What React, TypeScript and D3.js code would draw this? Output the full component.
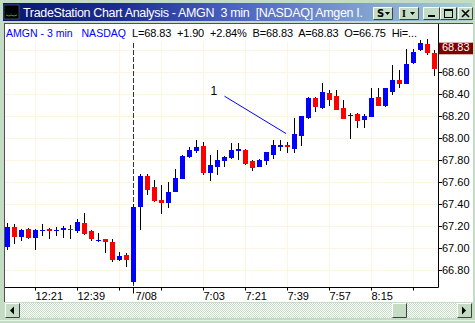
import React from "react";
import * as d3 from "d3";

const times = [
  "12:09","12:12","12:15","12:18","12:21","12:24","12:27","12:30","12:33","12:36",
  "12:39","12:42","12:45","12:48","12:51","12:54","12:57","13:00",
  "6:33","6:36","6:39","6:42","6:45","6:48","6:51","6:54","6:57","7:00",
  "7:03","7:06","7:09","7:12","7:15","7:18","7:21","7:24","7:27","7:30",
  "7:33","7:36","7:39","7:42","7:45","7:48","7:51","7:54","7:57","8:00",
  "8:03","8:06","8:09","8:12","8:15","8:18","8:21","8:24","8:27","8:30",
  "8:33","8:36","8:39","8:42",
];
const opens = [
  67.01,67.19,67.10,67.17,67.09,67.15,67.17,67.15,67.16,67.17,
  67.15,67.23,67.15,67.06,67.08,67.05,66.89,66.94,
  66.69,67.37,67.65,67.55,67.44,67.41,67.51,67.63,67.83,67.88,
  67.93,67.68,67.74,67.79,67.82,67.88,67.89,67.79,67.74,67.79,
  67.85,67.92,67.94,67.90,68.02,68.18,68.36,68.27,68.41,68.38,
  68.27,68.20,68.22,68.16,68.19,68.37,68.29,68.42,68.53,68.49,
  68.68,68.80,68.85,68.77,
];
const highs = [
  67.23,67.22,67.17,67.18,67.17,67.22,67.18,67.19,67.20,67.21,
  67.26,67.32,67.16,67.14,67.08,67.08,66.96,66.95,
  67.40,67.67,67.67,67.62,67.57,67.60,67.72,67.85,67.92,67.98,
  67.96,67.85,67.89,67.84,67.95,67.95,67.90,67.80,67.81,67.87,
  67.98,67.98,67.96,68.18,68.20,68.37,68.37,68.50,68.44,68.44,
  68.35,68.23,68.23,68.22,68.45,68.45,68.45,68.66,68.62,68.81,
  68.81,68.89,68.90,68.80,
];
const lows = [
  66.98,67.04,67.06,67.08,66.98,67.11,67.08,67.11,67.09,67.08,
  67.14,67.12,67.06,67.05,66.95,66.87,66.88,66.83,
  66.67,67.16,67.48,67.42,67.31,67.36,67.51,67.63,67.82,67.86,
  67.66,67.61,67.66,67.74,67.81,67.80,67.75,67.70,67.74,67.75,
  67.81,67.88,67.86,67.86,67.93,68.17,68.24,68.26,68.29,68.25,
  68.17,67.99,68.09,68.09,68.19,68.29,68.28,68.39,68.45,68.49,
  68.67,68.79,68.75,68.56,
];
const closes = [
  67.19,67.10,67.16,67.09,67.16,67.16,67.15,67.16,67.18,67.16,
  67.24,67.13,67.08,67.07,67.05,66.89,66.93,66.89,
  67.37,67.65,67.53,67.43,67.41,67.51,67.64,67.84,67.89,67.92,
  67.68,67.75,67.80,67.83,67.89,67.90,67.76,67.73,67.80,67.87,
  67.94,67.94,67.92,68.04,68.20,68.36,68.28,68.42,68.35,68.25,
  68.17,68.21,68.15,68.20,68.36,68.29,68.45,68.53,68.49,68.67,
  68.78,68.86,68.77,68.63,
];

const priceTicks = [66.8, 67.0, 67.2, 67.4, 67.6, 67.8, 68.0, 68.2, 68.4, 68.6];
const gridPrices = [66.8, 67.0, 67.2, 67.4, 67.6, 67.8, 68.0, 68.2, 68.4, 68.6, 68.8];
const timeTickIndex = [4, 10, 16, 18, 22, 28, 34, 40, 46, 52, 58];
const timeTickLabels = ["12:21", "12:39", "", "7/08", "", "7:03", "7:21", "7:39", "7:57", "8:15", ""];
const dayBreakIndex = 18;
const lastPrice = 68.83;
const trendIdx = [31, 39.8];
const trendPrice = [68.38, 68.04];
const trendLabel = "1";
const headerSymbol = "AMGN - 3 min   NASDAQ";
const headerQuote = "L=68.83  +1.90  +2.84%  B=68.83  A=68.83  O=66.75  Hi=...";
const titleText = "TradeStation Chart Analysis - AMGN  3 min  [NASDAQ] Amgen I.";

const W = 475;
const H = 323;
const FONT = "'Liberation Sans', Arial, sans-serif";
const FRAME = "#c4dcc4";
const GRID = "#fbf5e2";

function Btn({ x, y, w, h, children }: any) {
  return (
    <g>
      <rect x={x} y={y} width={w} height={h} fill={FRAME} />
      <path d={`M${x + 0.5},${y + h - 0.5} V${y + 0.5} H${x + w - 0.5}`} stroke="#ffffff" fill="none" />
      <path d={`M${x + 0.5},${y + h - 0.5} H${x + w - 0.5} V${y + 0.5}`} stroke="#404040" fill="none" />
      {children}
    </g>
  );
}

export default function App() {
  const n = times.length;
  const x = d3.scaleLinear().domain([0, n - 1]).range([7.5, 7.5 + 7 * (n - 1)]);
  const y = d3.scaleLinear().domain([66.8, 68.6]).range([270, 72]);
  const axisX = 438.5;
  const axisY = 287.5;
  const top = 24;
  const line = d3.line<[number, number]>().x((d) => x(d[0])).y((d) => y(d[1]));
  const trendPts: [number, number][] = trendIdx.map((v, i) => [v, trendPrice[i]]);

  return (
    <svg width={W} height={H} style={{ position: "absolute", left: 0, top: 0 }} fontFamily={FONT}>
      <defs>
        <linearGradient id="tb" x1="0" x2="1" y1="0" y2="0">
          <stop offset="0" stopColor="#08176e" />
          <stop offset="0.25" stopColor="#1c2d90" />
          <stop offset="0.5" stopColor="#4c64c2" />
          <stop offset="0.8" stopColor="#86a6d2" />
          <stop offset="1" stopColor="#a8d0d0" />
        </linearGradient>
        <pattern id="chk" width="2" height="2" patternUnits="userSpaceOnUse">
          <rect width="2" height="2" fill="#ffffff" />
          <rect width="1" height="1" fill={FRAME} />
          <rect x="1" y="1" width="1" height="1" fill={FRAME} />
        </pattern>
      </defs>
      {/* window frame */}
      <rect x={0} y={0} width={W} height={H} fill={FRAME} />
      <rect x={3} y={3} width={469} height={18} fill="url(#tb)" />
      <rect x={4} y={5} width={15} height={14} fill="#000" stroke="#808080" strokeWidth={0.5} />
      <polyline points="6,15 9,16 11,15 14,16 17,15" stroke="#00c000" fill="none" strokeWidth={1} />
      <text x={23} y={17} fill="#fff" fontSize={12.5} textLength={340} lengthAdjust="spacing" style={{ whiteSpace: "pre" }}>
        {titleText}
      </text>
      <Btn x={373} y={7} w={20} h={13}>
        <text x={377} y={17} fontSize={10} fontWeight="bold" fontFamily="'DejaVu Sans'">S</text>
        <path d="M385,12 h5 l-2.5,3 z" fill="#000" />
      </Btn>
      <Btn x={399} y={7} w={20} h={13}>
        <text x={402} y={17} fontSize={10} fontWeight="bold" fontFamily="'Liberation Serif'">I</text>
        <path d="M410,12 h5 l-2.5,3 z" fill="#000" />
      </Btn>
      <Btn x={423} y={7} w={17} h={13}>
        <rect x={428} y={15} width={7} height={2} fill="#000" />
      </Btn>
      <Btn x={440} y={7} w={17} h={13}>
        <rect x={444.5} y={9.5} width={8} height={8} fill="none" stroke="#000" />
        <line x1={444.5} x2={452.5} y1={10.5} y2={10.5} stroke="#000" />
      </Btn>
      <Btn x={458} y={7} w={15} h={13}>
        <path d="M462,10 l7,7 M469,10 l-7,7" stroke="#000" strokeWidth={1.6} />
      </Btn>

      {/* chart area */}
      <rect x={5} y={top} width={468} height={302 - top} fill="#fff" />
      <line x1={4.5} x2={4.5} y1={top - 1} y2={302} stroke="#505050" />
      <line x1={4} x2={473} y1={top - 0.5} y2={top - 0.5} stroke="#505050" />

      {/* grid */}
      {gridPrices.map((p) => (
        <line key={"g" + p} x1={5} x2={axisX} y1={Math.round(y(p)) + 0.5} y2={Math.round(y(p)) + 0.5} stroke={GRID} />
      ))}
      {timeTickIndex.map((ti) =>
        ti === dayBreakIndex ? null : (
          <line key={"v" + ti} x1={Math.floor(x(ti)) + 0.5} x2={Math.floor(x(ti)) + 0.5} y1={42} y2={axisY} stroke={GRID} />
        )
      )}
      {/* day break */}
      <line x1={Math.floor(x(dayBreakIndex)) + 0.5} x2={Math.floor(x(dayBreakIndex)) + 0.5} y1={43} y2={axisY} stroke="#333" strokeDasharray="5,2" />

      {/* candles */}
      {times.map((t, i) => {
        const cx = Math.floor(x(i)) + 0.5;
        const o = opens[i], c = closes[i];
        const yt = Math.round(y(Math.max(o, c)));
        const yb = Math.round(y(Math.min(o, c)));
        const up = c >= o;
        return (
          <g key={t + i}>
            <line x1={cx} x2={cx} y1={Math.round(y(highs[i]))} y2={Math.round(y(lows[i]))} stroke="#000" />
            <rect x={cx - 2.5} y={yt} width={5} height={Math.max(1, yb - yt)} fill={up ? "#0000ff" : "#ff0000"} />
          </g>
        );
      })}

      {/* trendline */}
      <path d={line(trendPts) || ""} stroke="#0000ff" fill="none" strokeWidth={1} />
      <text x={x(trendIdx[0]) - 14} y={y(trendPrice[0]) - 1} fontSize={12} fill="#000" fontFamily={FONT}>{trendLabel}</text>

      {/* axes */}
      <line x1={5} x2={axisX} y1={axisY} y2={axisY} stroke="#000" />
      <line x1={axisX} x2={axisX} y1={top} y2={axisY} stroke="#000" />
      {priceTicks.map((p) => (
        <g key={"pt" + p}>
          <line x1={axisX} x2={axisX + 3.5} y1={Math.round(y(p)) + 0.5} y2={Math.round(y(p)) + 0.5} stroke="#000" />
          <text x={442} y={y(p) + 4} fontSize={11} fill="#000">{p.toFixed(2)}</text>
        </g>
      ))}
      {timeTickIndex.map((ti, k) => (
        <g key={"tt" + ti}>
          <line x1={Math.floor(x(ti)) + 0.5} x2={Math.floor(x(ti)) + 0.5} y1={axisY} y2={axisY + (ti === dayBreakIndex ? 6 : 3)} stroke="#000" />
          {timeTickLabels[k] ? (
            <text x={x(ti) + (ti === dayBreakIndex ? 2 : 0)} y={300} fontSize={11} fill="#000">{timeTickLabels[k]}</text>
          ) : null}
        </g>
      ))}
      {/* last price box */}
      <rect x={439} y={y(lastPrice) - 4} width={34} height={11.6} fill="#800000" />
      <text x={442} y={y(lastPrice) + 4.6} fontSize={11} fill="#fff">{lastPrice.toFixed(2)}</text>

      {/* header */}
      <text x={6} y={37} fontSize={11} fill="#0000ff" style={{ whiteSpace: "pre" }} textLength={120} lengthAdjust="spacingAndGlyphs">{headerSymbol}</text>
      <text x={132} y={37} fontSize={11} fill="#000" style={{ whiteSpace: "pre" }} textLength={285} lengthAdjust="spacing">{headerQuote}</text>

      {/* scrollbar */}
      <rect x={5} y={303} width={467} height={15} fill="url(#chk)" />
      <Btn x={5} y={303} w={15} h={15}>
        <path d="M10,310.5 l4,-4 v8 z" fill="#000" />
      </Btn>
      <Btn x={392} y={303} w={15} h={15} />
      <Btn x={457} y={303} w={15} h={15}>
        <path d="M466,310.5 l-4,-4 v8 z" fill="#000" />
      </Btn>
      <line x1={0} x2={W} y1={320.5} y2={320.5} stroke="#e8f4e8" />
    </svg>
  );
}
